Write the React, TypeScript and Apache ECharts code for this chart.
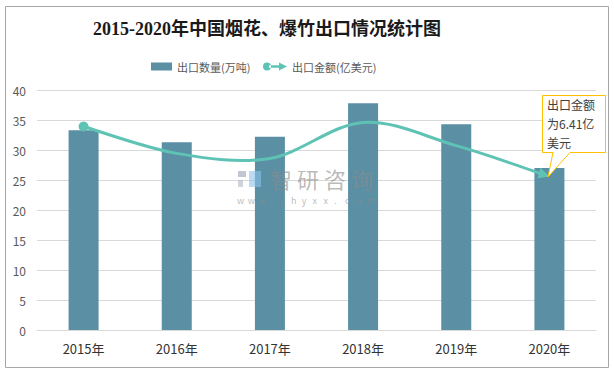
import React, { useEffect, useRef } from "react";
import * as echarts from "echarts";

const categories = ["2015年", "2016年", "2017年", "2018年", "2019年", "2020年"];
const exportVolume = [33.3, 31.3, 32.2, 37.8, 34.3, 27.0];
const exportValue = [8.48, 7.36, 7.15, 8.65, 7.68, 6.41];
const leftTicks = { min: 0, max: 40, interval: 5 };
const rightTicks = { min: 0, max: 10 };
const titleText = "2015-2020年中国烟花、爆竹出口情况统计图";
const volumeName = "出口数量(万吨)";
const valueName = "出口金额(亿美元)";
const calloutLines = ["出口金额", "为6.41亿", "美元"];
const watermarkChars = ["智", "研", "咨", "询"];
const watermarkUrl = "www.chyxx.com".split("");

const BAR_COLOR = "#5a8fa4";
const LINE_COLOR = "#5ec3b5";
const SANS = "'Noto Sans CJK SC', 'Noto Sans', sans-serif";

function renderLine(params: any, api: any) {
  if (params.dataIndex !== 0) return null;
  const pts: number[][] = exportValue.map((v, i) => api.coord([i, v]));
  const n = pts.length;
  const P = (i: number) => pts[Math.max(0, Math.min(n - 1, i))];
  const last = P(n - 1);
  const c2Last = [last[0] - (last[0] - P(n - 3)[0]) / 6, last[1] - (last[1] - P(n - 3)[1]) / 6];
  let dx = last[0] - c2Last[0];
  let dy = last[1] - c2Last[1];
  const len = Math.sqrt(dx * dx + dy * dy) || 1;
  dx /= len;
  dy /= len;
  const arrowLen = 11;
  const halfW = 5.5;
  const endPt = [last[0] - dx * (arrowLen - 2), last[1] - dy * (arrowLen - 2)];
  let d = `M${pts[0][0]},${pts[0][1]}`;
  for (let i = 0; i < n - 1; i++) {
    const p0 = P(i - 1), p1 = P(i), p2 = P(i + 1), p3 = P(i + 2);
    const c1 = [p1[0] + (p2[0] - p0[0]) / 6, p1[1] + (p2[1] - p0[1]) / 6];
    const c2 = [p2[0] - (p3[0] - p1[0]) / 6, p2[1] - (p3[1] - p1[1]) / 6];
    const target = i === n - 2 ? endPt : p2;
    d += ` C${c1[0]},${c1[1]} ${c2[0]},${c2[1]} ${target[0]},${target[1]}`;
  }
  const base = [last[0] - dx * arrowLen, last[1] - dy * arrowLen];
  const nx = -dy, ny = dx;
  return {
    type: "group",
    children: [
      {
        type: "path",
        shape: { pathData: d },
        style: { fill: "none", stroke: LINE_COLOR, lineWidth: 3 },
      },
      {
        type: "circle",
        shape: { cx: pts[0][0], cy: pts[0][1], r: 5 },
        style: { fill: LINE_COLOR },
      },
      {
        type: "polygon",
        shape: {
          points: [
            [last[0], last[1]],
            [base[0] + nx * halfW, base[1] + ny * halfW],
            [base[0] - nx * halfW, base[1] - ny * halfW],
          ],
        },
        style: { fill: LINE_COLOR },
      },
    ],
  };
}

export default function App() {
  const ref = useRef<HTMLDivElement>(null);
  useEffect(() => {
    if (!ref.current) return;
    const chart = echarts.init(ref.current, null, { renderer: "svg" });
    const wm = "rgba(140,140,140,0.6)";
    chart.setOption({
      animation: false,
      backgroundColor: "#ffffff",
      title: {
        text: titleText,
        left: 88,
        top: 15,
        textStyle: {
          fontFamily: "'Liberation Serif', 'Noto Sans CJK SC', serif",
          fontSize: 18,
          fontWeight: "bold",
          color: "#1a1a1a",
        },
      },
      legend: [
        {
          data: [volumeName],
          left: 146,
          top: 56,
          itemWidth: 21,
          itemHeight: 8,
          icon: "rect",
          textStyle: { color: "#595959", fontSize: 11, fontFamily: SANS },
        },
        {
          data: [valueName],
          left: 258,
          top: 56,
          itemWidth: 24,
          itemHeight: 10,
          icon: "path://M0,5a4,4 0 1,0 8,0a4,4 0 1,0 -8,0zM6,3.8h12v2.4h-12zM16,1L24,5L16,9z",
          itemStyle: { color: LINE_COLOR },
          textStyle: { color: "#595959", fontSize: 11, fontFamily: SANS },
        },
      ],
      grid: { left: 37, right: 18, top: 90, bottom: 44, containLabel: false },
      xAxis: {
        type: "category",
        data: categories,
        axisLine: { show: true, lineStyle: { color: "#d9d9d9" } },
        axisTick: { show: false },
        axisLabel: { color: "#333333", fontSize: 13, margin: 12, fontFamily: SANS },
      },
      yAxis: [
        {
          type: "value",
          min: leftTicks.min,
          max: leftTicks.max,
          interval: leftTicks.interval,
          axisLine: { show: false },
          axisTick: { show: false },
          axisLabel: { color: "#595959", fontSize: 12, margin: 11, fontFamily: SANS },
          splitLine: { lineStyle: { color: "#d9d9d9" } },
        },
        {
          type: "value",
          min: rightTicks.min,
          max: rightTicks.max,
          show: false,
          splitLine: { show: false },
        },
      ],
      series: [
        {
          name: volumeName,
          type: "bar",
          data: exportVolume,
          barWidth: 30,
          itemStyle: { color: BAR_COLOR },
        },
        {
          name: valueName,
          type: "custom",
          yAxisIndex: 1,
          data: exportValue.map((v, i) => [i, v]),
          renderItem: renderLine,
          itemStyle: { color: LINE_COLOR },
          clip: false,
          z: 3,
        },
      ],
      graphic: [
        {
          type: "rect",
          shape: { x: 5.5, y: 6.5, width: 603, height: 361 },
          style: { fill: "none", stroke: "#a6a6a6", lineWidth: 1 },
          z: 100,
        },
        { type: "rect", z: 50, shape: { x: 238, y: 171, width: 8, height: 6 }, style: { fill: "rgba(150,160,180,0.6)" } },
        { type: "rect", z: 50, shape: { x: 238, y: 180, width: 5, height: 7 }, style: { fill: "rgba(160,170,190,0.5)" } },
        { type: "rect", z: 50, shape: { x: 249, y: 171, width: 12, height: 16 }, style: { fill: "rgba(140,195,235,0.6)" } },
        ...watermarkChars.map((c, i) => ({
          type: "text",
          z: 50,
          x: 270 + i * 27,
          y: 167,
          style: { text: c, fontSize: 22, fill: wm, fontFamily: SANS },
        })),
        ...watermarkUrl.map((c, i) => ({
          type: "text",
          z: 50,
          x: 237 + i * 10.8,
          y: 196,
          style: { text: c, fontSize: 9, fill: wm, fontFamily: SANS },
        })),
        {
          type: "polygon",
          z: 60,
          shape: {
            points: [
              [542.5, 95.5], [605.5, 95.5], [605.5, 152.5], [570, 152.5],
              [548, 177], [553, 152.5], [542.5, 152.5],
            ],
          },
          style: { fill: "#ffffff", stroke: "#ffc000", lineWidth: 1 },
        },
        ...calloutLines.map((t, i) => ({
          type: "text",
          z: 61,
          x: 547,
          y: 98 + i * 19,
          style: { text: t, fontSize: 12, fill: "#404040", fontFamily: SANS },
        })),
      ],
    });
    return () => chart.dispose();
  }, []);
  return (
    <div
      ref={ref}
      style={{ position: "fixed", left: 0, top: 0, width: 614, height: 374 }}
    />
  );
}
